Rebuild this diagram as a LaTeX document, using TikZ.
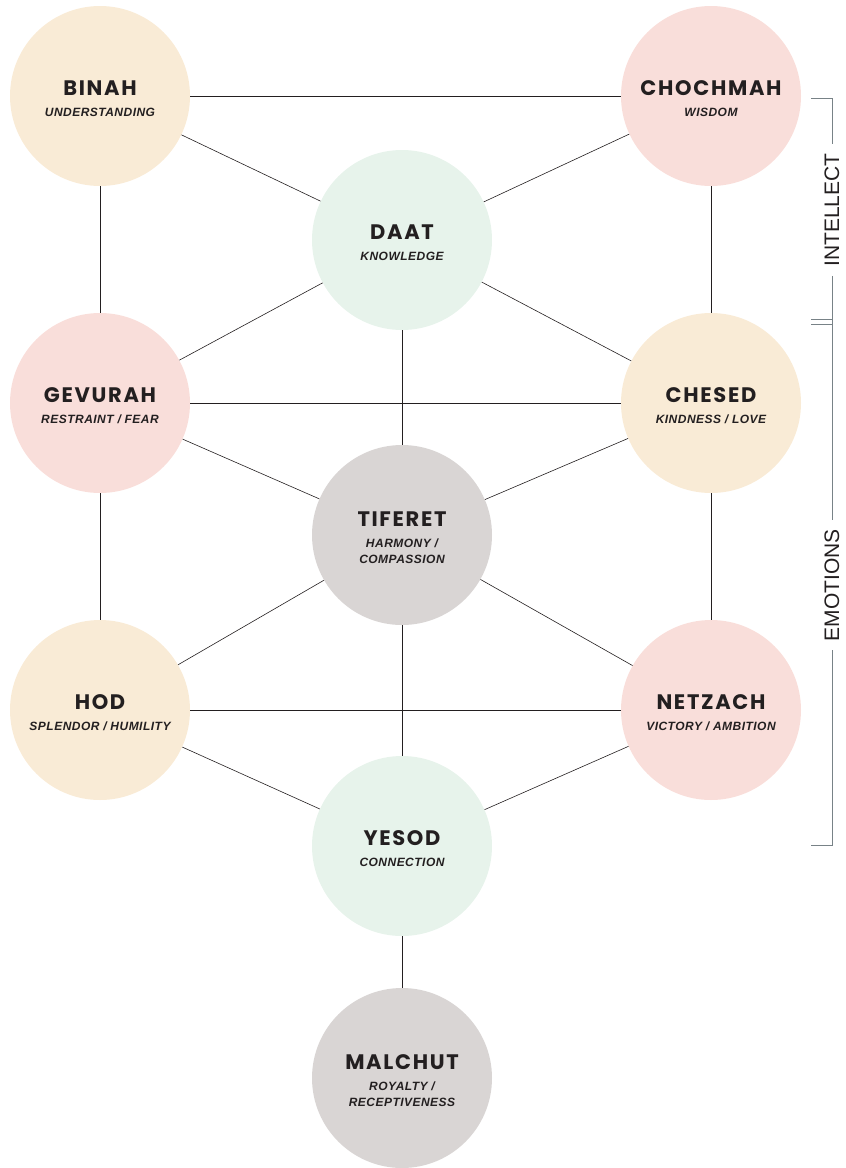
\documentclass[tikz,border=0pt]{standalone}
\usepackage{fontspec}
\setmainfont{Liberation Sans}
\newfontfamily\titlefont{Poppins}[LetterSpace=8]
\newfontfamily\subfont{Liberation Sans}[LetterSpace=4]
\usetikzlibrary{positioning}

\definecolor{cream}{RGB}{249,235,214}
\definecolor{rose}{RGB}{249,222,218}
\definecolor{mint}{RGB}{231,243,235}
\definecolor{stone}{RGB}{217,213,212}
\definecolor{ink}{RGB}{35,31,32}
\definecolor{rule}{RGB}{120,130,135}

\newcommand{\ttl}[1]{{\rule{0pt}{21pt}\titlefont\upshape\bfseries\fontsize{21}{24}\selectfont #1}}

\tikzset{
  sefira/.style={circle, minimum size=180pt, inner sep=0pt, text=ink,
    align=center, font=\subfont\bfseries\itshape\fontsize{12}{16}\selectfont},
  path/.style={draw=ink, line width=0.6pt},
  sidelabel/.style={rotate=90, text=ink, font=\fontsize{21}{24}\selectfont,
    inner sep=9pt}
}

\begin{document}
\begin{tikzpicture}[x=1pt, y=-1pt]
\useasboundingbox (0,0) rectangle (846,1168);

% intellect
\node[sefira, fill=cream] (binah) at (100,96) {\ttl{BINAH}\\[5pt]UNDERSTANDING};
\node[sefira, fill=rose] (chochmah) at (711,96) {\ttl{CHOCHMAH}\\[5pt]WISDOM};
\node[sefira, fill=mint] (daat) at (402,240) {\ttl{DAAT}\\[5pt]KNOWLEDGE};

% emotions
\node[sefira, fill=rose] (gevurah) at (100,403) {\ttl{GEVURAH}\\[5pt]RESTRAINT / FEAR};
\node[sefira, fill=cream] (chesed) at (711,403) {\ttl{CHESED}\\[5pt]KINDNESS / LOVE};
\node[sefira, fill=stone] (tiferet) at (402,535) {\ttl{TIFERET}\\[5pt]HARMONY /\\COMPASSION};
\node[sefira, fill=cream] (hod) at (100,710) {\ttl{HOD}\\[5pt]SPLENDOR / HUMILITY};
\node[sefira, fill=rose] (netzach) at (711,710) {\ttl{NETZACH}\\[5pt]VICTORY / AMBITION};
\node[sefira, fill=mint] (yesod) at (402,846) {\ttl{YESOD}\\[5pt]CONNECTION};

% bottom
\node[sefira, fill=stone] (malchut) at (402,1078) {\ttl{MALCHUT}\\[5pt]ROYALTY /\\RECEPTIVENESS};

% paths
\draw[path] (binah) -- (chochmah);
\draw[path] (binah) -- (daat);
\draw[path] (chochmah) -- (daat);
\draw[path] (binah) -- (gevurah);
\draw[path] (chochmah) -- (chesed);
\draw[path] (daat) -- (gevurah);
\draw[path] (daat) -- (chesed);
\draw[path] (daat) -- (tiferet);
\draw[path] (gevurah) -- (chesed);
\draw[path] (gevurah) -- (tiferet);
\draw[path] (chesed) -- (tiferet);
\draw[path] (gevurah) -- (hod);
\draw[path] (chesed) -- (netzach);
\draw[path] (tiferet) -- (hod);
\draw[path] (tiferet) -- (netzach);
\draw[path] (tiferet) -- (yesod);
\draw[path] (hod) -- (netzach);
\draw[path] (hod) -- (yesod);
\draw[path] (netzach) -- (yesod);
\draw[path] (yesod) -- (malchut);

% brackets
\node[sidelabel] (intellect) at (832,210) {INTELLECT};
\node[sidelabel] (emotions) at (832,585) {EMOTIONS};

\coordinate (itop) at (832,98);
\coordinate (ibot) at (832,330);
\coordinate (etop) at (832,324);
\coordinate (ebot) at (832,845);

\draw[draw=rule, line width=0.8pt] (811,98) -- (itop) -- (intellect.east);
\draw[draw=rule, line width=0.8pt] (intellect.west) -- (ibot);
\draw[draw=rule, line width=0.8pt] (811,319) -- (832,319);
\draw[draw=rule, line width=0.8pt] (811,324) -- (etop) -- (emotions.east);
\draw[draw=rule, line width=0.8pt] (emotions.west) -- (ebot) -- (811,845);
\end{tikzpicture}
\end{document}
